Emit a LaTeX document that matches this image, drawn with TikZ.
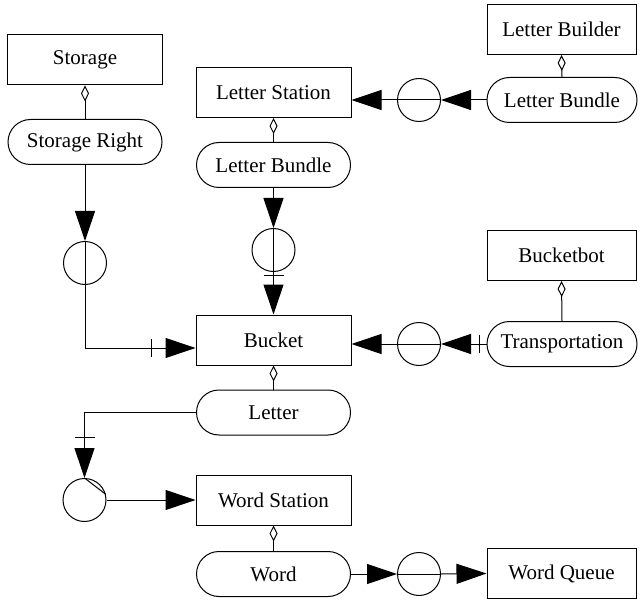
\documentclass[tikz,border=0pt]{standalone}
\usepackage{fontspec}
\newfontfamily\labelfont{LiberationSerif}[Extension=.ttf, UprightFont=*-Regular]
\usetikzlibrary{arrows.meta,calc}
\begin{document}
\begin{tikzpicture}[x=1pt,y=-1pt,
  lbl/.style={font=\labelfont\fontsize{21}{24}\selectfont},
  box/.style={draw, line width=1pt, lbl, inner sep=0pt,
    minimum width=155pt, minimum height=50pt},
  rbox/.style={box, minimum width=149pt},
  pill/.style={draw, line width=1pt, lbl, inner sep=0pt,
    rounded corners=22.5pt, minimum width=154pt, minimum height=45pt},
  rpill/.style={pill, minimum width=150pt},
  junc/.style={draw, circle, line width=1pt, minimum size=43pt, inner sep=0pt},
  link/.style={line width=1pt},
  flow/.style={link, -{Triangle[length=30pt,width=20pt]}},
  part/.style={link, -{Diamond[open,length=16pt,width=8pt]}},
  tickmark/.style={line width=1pt}]
\useasboundingbox (0,0) rectangle (640,604);

% left column
\node[box]  (storage)      at (85,60)    {Storage};
\node[pill] (storageright) at (85,142)   {Storage Right};
\node[junc] (j1)           at (85,263)   {};

% middle column
\node[box]  (lstation)  at (273.5,92.5) {Letter Station};
\node[pill] (lbundle)   at (273.5,165)  {Letter Bundle};
\node[junc] (j2)        at (273.5,250)  {};
\node[box]  (bucket)    at (273.5,340)  {Bucket};
\node[pill] (letter)    at (273.5,412.5){Letter};
\node[box]  (wstation)  at (273.5,500)  {Word Station};
\node[pill] (word)      at (273.5,574)  {Word};

% right column
\node[rbox]  (lbuilder)  at (561.5,29.5) {Letter Builder};
\node[rpill] (rbundle)   at (562,100)    {Letter Bundle};
\node[junc]  (j3)        at (419,100)    {};
\node[rbox]  (bucketbot) at (561.5,255.5){Bucketbot};
\node[rpill] (transport) at (562,344)    {Transportation};
\node[junc]  (j4)        at (419,344)    {};
\node[junc]  (j6)        at (419,574)    {};
\node[rbox]  (wqueue)    at (561.5,573.5){Word Queue};

% selector junction
\node[junc] (j5) at (84.5,500) {};

% whole-part links
\draw[part] (storageright.north) -- (storage.south);
\draw[part] (lbundle.north) -- (lstation.south);
\draw[part] (letter.north) -- (bucket.south);
\draw[part] (word.north) -- (wstation.south);
\draw[part] (rbundle.north) -- (lbuilder.south);
\draw[part] (transport.north) -- (bucketbot.south);

% storage right -> bucket
\draw[flow] (storageright.south) -- (j1.north);
\draw[link] (j1.north) -- (j1.south);
\coordinate (bucketin) at ($(bucket.west)+(0,8)$);
\draw[flow] (j1.south) |- (bucketin);
\draw[tickmark] ($(bucketin)+(-44,-9)$) -- ($(bucketin)+(-44,9)$);

% letter bundle -> bucket
\draw[flow] (lbundle.south) -- (j2.north);
\draw[link] (j2.north) -- (j2.south);
\draw[flow] (j2.south) -- (bucket.north);
\draw[tickmark] ($(bucket.north)+(-10,-39)$) -- ($(bucket.north)+(10,-39)$);

% letter bundle -> letter station
\draw[flow] (rbundle.west) -- (j3.east);
\draw[link] (j3.east) -- (j3.west);
\draw[flow] (j3.west) -- (j3.west -| lstation.east);

% transportation -> bucket
\draw[flow] (transport.west) -- (j4.east);
\draw[link] (j4.east) -- (j4.west);
\draw[flow] (j4.west) -- (j4.west -| bucket.east);
\draw[tickmark] ($(transport.west)+(-7,-9)$) -- ($(transport.west)+(-7,9)$);

% letter -> word station
\draw[flow] (letter.west) -| (j5.north);
\draw[tickmark] ($(j5.north)+(-10,-41)$) -- ($(j5.north)+(10,-41)$);
\draw[link] (j5.north) -- (j5.15);
\draw[flow] (j5.east) -- (wstation.west);

% word -> word queue
\draw[flow] (word.east) -- (j6.west);
\draw[link] (j6.west) -- (j6.east);
\draw[flow] (j6.east) -- (wqueue.west);
\end{tikzpicture}
\end{document}
